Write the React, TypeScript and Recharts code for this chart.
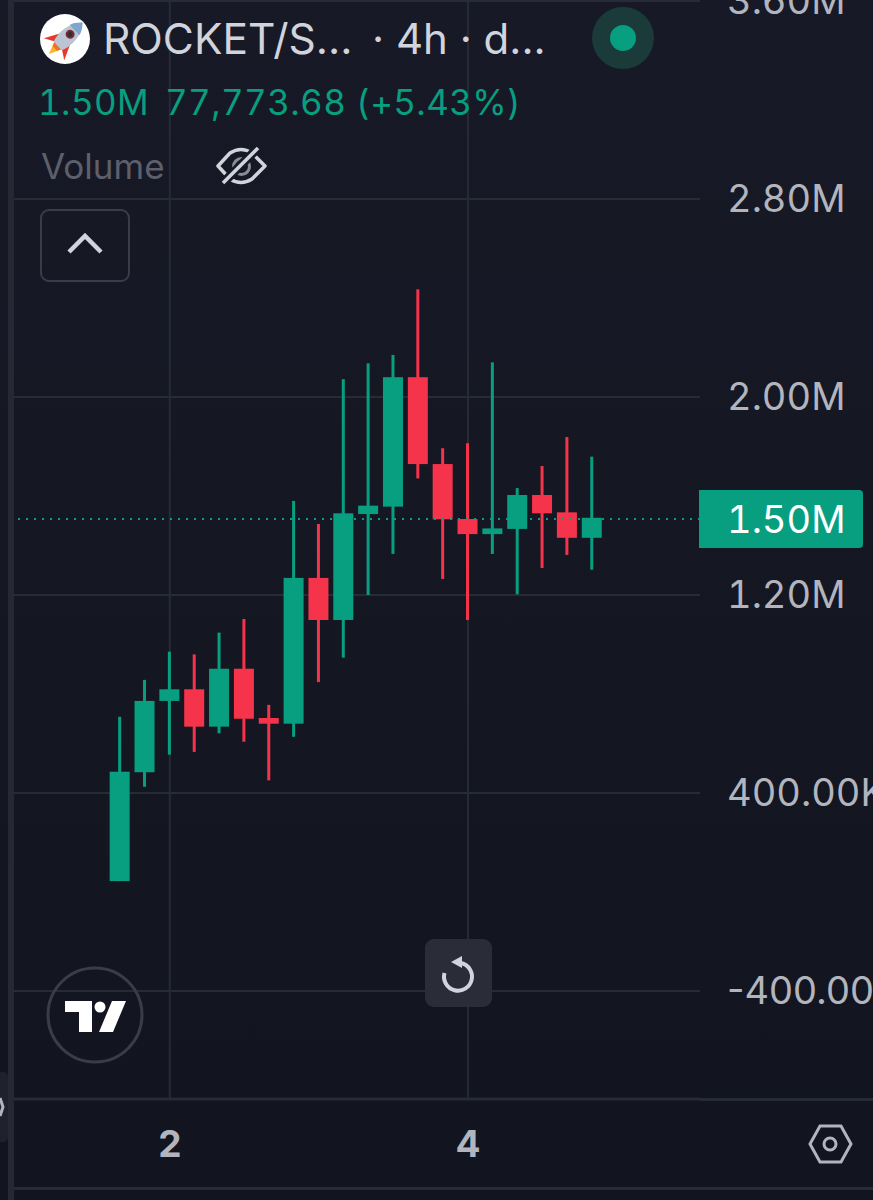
import { Bar, CartesianGrid, ComposedChart, ReferenceLine, XAxis, YAxis } from "recharts";

const opens = [44, 484, 772, 819, 668, 902, 703, 680, 1269, 1099, 1527, 1557, 2080, 1729, 1507, 1446, 1467, 1604, 1534, 1431];
const closes = [486, 772, 819, 668, 902, 700, 680, 1269, 1099, 1530, 1561, 2080, 1729, 1506, 1446, 1469, 1604, 1530, 1431, 1512];
const highs = [708, 857, 971, 960, 1048, 1103, 756, 1580, 1487, 2072, 2136, 2170, 2435, 1793, 1813, 2140, 1632, 1721, 1838, 1759];
const lows = [44, 425, 555, 566, 641, 607, 451, 627, 848, 947, 1200, 1366, 1671, 1265, 1099, 1366, 1203, 1309, 1362, 1302];

const priceTicks = [3600, 2800, 2000, 1200, 400, -400];
const priceLabels = ["3.60M", "2.80M", "2.00M", "1.20M", "400.00K", "-400.00K"];
const dayTicks = [2, 14];
const dayLabels = ["2", "4"];
const lastPrice = 1507;
const lastPriceLabel = "1.50M";
const indexDomain = [-4.27, 23.34];

const GRID = "#272b36";
const UP = "#089e80";
const DOWN = "#f5334a";
const FONT = "Inter, Roboto, sans-serif";
const TNUM = { fontFeatureSettings: '"tnum"' };

const candles = opens.map((open, i) => ({
	index: i,
	open,
	close: closes[i],
	high: highs[i],
	low: lows[i],
	range: [lows[i], highs[i]],
}));

// one shape per candle: the bar spans low-high, the body is placed from the same scale
const Candle = (props: any) => {
	const { x, y, width, height, payload } = props;
	const { open, close, high, low } = payload;
	const perUnit = height / (high - low);
	const bodyTop = y + (high - Math.max(open, close)) * perUnit;
	const bodyHeight = Math.max(Math.abs(open - close) * perUnit, 1);
	const color = close >= open ? UP : DOWN;
	const mid = x + width / 2;
	return (
		<g>
			<rect x={mid - 1.5} y={y} width={3} height={height} fill={color} />
			<rect x={x} y={bodyTop} width={width} height={bodyHeight} fill={color} />
		</g>
	);
};

// tabular digits for the prices, but the hyphen of the negative label would get too wide
const PriceTick = ({ x, y, payload }: any) => {
	const label = priceLabels[priceTicks.indexOf(payload.value)];
	return (
		<text
			x={x}
			y={y}
			dy="0.355em"
			fill="#b2b5be"
			fontSize={38}
			fontFamily={FONT}
			style={label.startsWith("-") ? undefined : TNUM}
		>
			{label}
		</text>
	);
};

const LastPriceTag = (props: any) => {
	const { viewBox } = props;
	const right = viewBox.x + viewBox.width;
	const mid = viewBox.y;
	return (
		<g>
			<path
				d={`M${right - 1} ${mid - 29}H${right + 159}a4 4 0 0 1 4 4V${mid + 25}a4 4 0 0 1 -4 4H${right - 1}Z`}
				fill={UP}
			/>
			<text x={right + 27} y={mid + 14} fontFamily={FONT} fontSize={38} fill="#ffffff" style={TNUM}>
				{lastPriceLabel}
			</text>
		</g>
	);
};

const Overlay = () => (
	<svg
		width={873}
		height={1200}
		style={{ position: "absolute", left: 0, top: 0, pointerEvents: "none" }}
		fontFamily={FONT}
	>
		{/* frame lines */}
		<rect x={8} y={0} width={6} height={1200} fill="#262934" />
		<rect x={14} y={0} width={686} height={2} fill={GRID} />
		<rect x={700} y={1098} width={173} height={3} fill={GRID} />
		<rect x={14} y={1187} width={859} height={3} fill={GRID} />
		<rect x={-6} y={1072} width={14} height={70} rx={5} fill="#1f222c" />
		<path d="M0 1098L3 1107L0 1116" fill="none" stroke="#b2b5be" strokeWidth={3} />

		{/* header */}
		<circle cx={65} cy={39} r={25} fill="#ffffff" />
		<g transform="translate(65 39) rotate(47)">
			<path d="M-6 -3L-15 15L-5 9Z" fill="#e8382c" />
			<path d="M6 -3L15 15L5 9Z" fill="#e8382c" />
			<path d="M-6 8L0 22L6 8Z" fill="#f9b32a" />
			<path d="M-6 8L-3 14L3 14L6 8Z" fill="#f0702a" />
			<path d="M0 -24C9 -14 10 -1 6 10H-6C-10 -1 -9 -14 0 -24Z" fill="#b9c4d4" />
			<path d="M0 -24C4 -20 6 -17 7 -13H-7C-6 -17 -4 -20 0 -24Z" fill="#7fa6cf" />
			<circle cx={0} cy={-7} r={4.5} fill="#7a2a2a" />
			<circle cx={0} cy={-7} r={2.5} fill="#2f2f3a" />
		</g>
		<text x={103} y={54} fontSize={42.5} fill="#d1d4dc">ROCKET/S...</text>
		<text x={372} y={54} fontSize={42} fill="#d1d4dc">· 4h · d...</text>
		<circle cx={623} cy={38} r={31} fill="#1b3a3a" />
		<circle cx={623} cy={38} r={13} fill={UP} />
		<text x={38} y={115} fontSize={35} fill={UP} style={TNUM} letterSpacing={0.4}>1.50M</text>
		<text x={165} y={115} fontSize={35} fill={UP} style={TNUM} letterSpacing={0.4}>77,773.68 (+5.43%)</text>
		<text x={41} y={179} fontSize={35} fill="#5d606b">Volume</text>
		<g fill="none" stroke="#d1d4dc" strokeLinejoin="round">
			<path d="M218 166L230 153Q241 146 252 153L265 166L252 179Q241 186 230 179Z" strokeWidth={3.5} />
			<circle cx={241.5} cy={166.5} r={8} strokeWidth={3} stroke="#8a8d97" />
			<path d="M223 183L258 148" strokeWidth={9} stroke="#161a25" />
			<path d="M223 183L258 148" strokeWidth={3.5} />
		</g>
		<rect x={41} y={210} width={88} height={71} rx={8} fill="none" stroke="#3a3d47" strokeWidth={2} />
		<path d="M69 252L85 236L101 252" fill="none" stroke="#d1d4dc" strokeWidth={4.5} />

		{/* tradingview badge */}
		<circle cx={95} cy={1015} r={47} fill="none" stroke="#3a3d47" strokeWidth={3} />
		<path d="M65 1001H92V1032H79V1012H65Z" fill="#ffffff" />
		<circle cx={100} cy={1007} r={5.5} fill="#ffffff" />
		<path d="M112 1001H126L113 1032H99Z" fill="#ffffff" />

		{/* reset button */}
		<rect x={425} y={939} width={67} height={68} rx={9} fill="#2a2d38" />
		<path d="M461 963A14 14 0 1 1 444.5 973" fill="none" stroke="#d1d4dc" strokeWidth={4} />
		<path d="M462 956L462 968L451 962Z" fill="#d1d4dc" />

		{/* settings */}
		<path d="M820 1126H841L851 1144L841 1162H820L810 1144Z" fill="none" stroke="#b2b5be" strokeWidth={3} />
		<circle cx={830} cy={1144} r={6} fill="none" stroke="#b2b5be" strokeWidth={3} />
	</svg>
);

// vertical grid only at the day ticks, without the plot's edge lines
const dayGridLines = ({ offset }: any) =>
	dayTicks.map(
		(day) =>
			offset.left +
			((day - indexDomain[0]) / (indexDomain[1] - indexDomain[0])) * offset.width
	);

const App = () => {
	return (
		<div
			style={{
				position: "absolute",
				left: 0,
				top: 0,
				width: 873,
				height: 1200,
				overflow: "hidden",
				background: "linear-gradient(#171a26, #12151f)",
			}}
		>
			<ComposedChart
				width={873}
				height={1200}
				data={candles}
				margin={{ top: 0, right: 0, bottom: 0, left: 14 }}
			>
				<CartesianGrid stroke={GRID} strokeWidth={2} verticalCoordinatesGenerator={dayGridLines} />
				<XAxis
					dataKey="index"
					type="number"
					domain={indexDomain}
					allowDataOverflow
					ticks={dayTicks}
					tickFormatter={(v: number) => dayLabels[dayTicks.indexOf(v)]}
					height={101}
					tickLine={false}
					tickSize={0}
					tickMargin={32}
					axisLine={{ stroke: GRID, strokeWidth: 3 }}
					tick={{ fill: "#b2b5be", fontSize: 37, fontWeight: 700, fontFamily: FONT }}
				/>
				<YAxis
					orientation="right"
					type="number"
					domain={[-836.4, 3604]}
					allowDataOverflow
					ticks={priceTicks}
					interval={0}
					width={173}
					tickLine={false}
					tickSize={0}
					tickMargin={27}
					axisLine={false}
					tick={<PriceTick />}
				/>
				<ReferenceLine
					y={lastPrice}
					stroke={UP}
					strokeWidth={2}
					strokeDasharray="2 6"
					label={<LastPriceTag />}
				/>
				<Bar dataKey="range" barSize={20} shape={<Candle />} isAnimationActive={false} />
			</ComposedChart>
			<Overlay />
		</div>
	);
};

export default App;
